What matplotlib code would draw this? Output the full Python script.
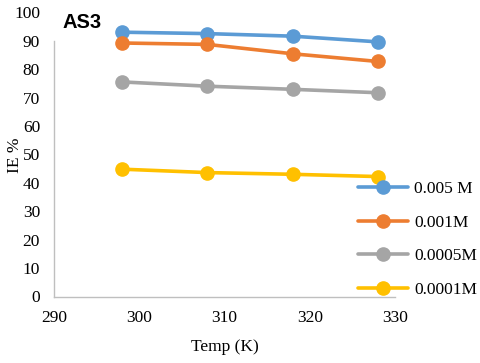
import matplotlib
matplotlib.use("Agg")
import matplotlib.pyplot as plt

temps = [298, 308, 318, 328]
labels = ["0.005 M", "0.001M", "0.0005M", "0.0001M"]
ie_0005 = [93.0, 92.5, 91.6, 89.6]
ie_0001 = [89.2, 88.7, 85.4, 82.7]
ie_00005 = [75.5, 74.0, 72.9, 71.7]
ie_00001 = [44.8, 43.6, 43.0, 42.2]
series = [ie_0005, ie_0001, ie_00005, ie_00001]
colors = ["#5B9BD5", "#ED7D31", "#A5A5A5", "#FFC000"]
xticks = [290, 300, 310, 320, 330]
yticks = list(range(0, 101, 10))

plt.rcParams['font.family'] = ['Liberation Serif', 'DejaVu Serif']

fig = plt.figure(figsize=(4.8, 3.63), dpi=100)
ax = fig.add_axes([54/480, 1-296.5/363, (395-54)/480, (296.5-12.3)/363])

for vals, c, lab in zip(series, colors, labels):
    ax.plot(temps, vals, color=c, lw=2.6, marker='o', ms=9.5, label=lab,
            solid_capstyle='round')

ax.set_xlim(290, 330)
ax.set_ylim(0, 100)
ax.set_xticks(xticks)
ax.set_yticks(yticks)
for s in ['top', 'right']:
    ax.spines[s].set_visible(False)
for s in ['left', 'bottom']:
    ax.spines[s].set_color('#BFBFBF')
    ax.spines[s].set_linewidth(1.0)
ax.spines['left'].set_bounds(0, 90)
ax.tick_params(axis='both', length=0, labelsize=12.5, colors='#000000')
ax.tick_params(axis='y', pad=10)
ax.tick_params(axis='x', pad=10)

ax.set_xlabel("Temp (K)", fontsize=12.5, va='center')
ax.xaxis.set_label_coords((225-54)/341, -(347-296.5)/284.2)
ax.set_ylabel("IE %", fontsize=12.5, va='center')
ax.yaxis.set_label_coords(-(54-15)/341, (296.5-155)/284.2)

fig.text(62/480, 1-23/363, "AS3", fontsize=14.5, fontweight='bold',
         family=['Liberation Sans', 'DejaVu Sans'], va='center', ha='left')

leg = fig.legend(loc='upper left', bbox_to_anchor=(358/480, 1-181/363),
                 frameon=False, fontsize=12.5, handlelength=2.9,
                 handletextpad=0.35, labelspacing=1.0, borderpad=0,
                 borderaxespad=0)

fig.savefig("out.png", dpi=100)
